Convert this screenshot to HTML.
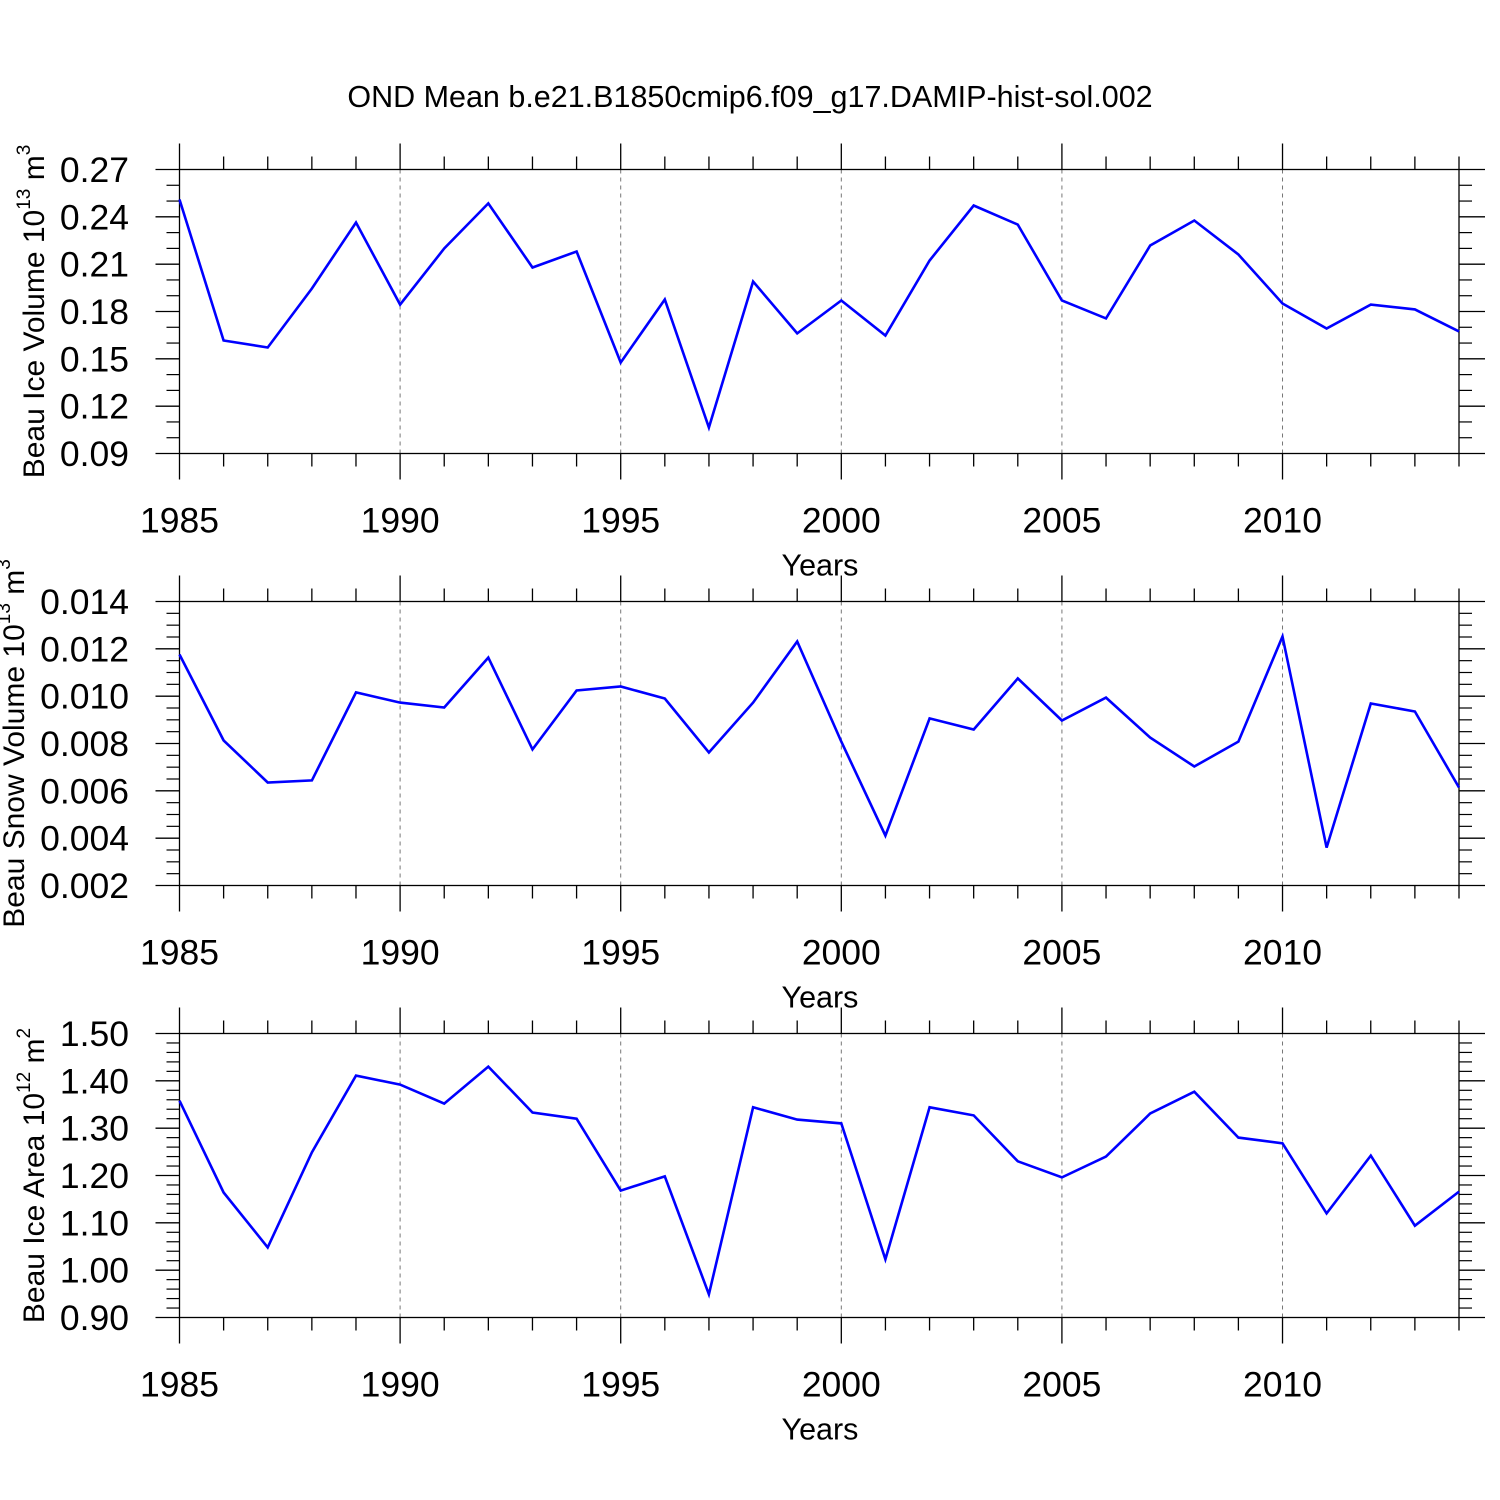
<!DOCTYPE html>
<html><head><meta charset="utf-8"><style>
html,body{margin:0;padding:0;background:#fff}
svg{display:block;font-family:"Liberation Sans",Arial,sans-serif}
</style></head><body>
<svg id="chart" width="1500" height="1500" viewBox="0 0 1500 1500" xmlns="http://www.w3.org/2000/svg">
<rect width="1500" height="1500" fill="#fff"/>
<text x="750" y="107" font-size="30.5" text-anchor="middle">OND Mean b.e21.B1850cmip6.f09_g17.DAMIP-hist-sol.002</text>
</svg>
<script>
const years = [1985,1986,1987,1988,1989,1990,1991,1992,1993,1994,1995,1996,1997,1998,1999,2000,2001,2002,2003,2004,2005,2006,2007,2008,2009,2010,2011,2012,2013,2014];
const iceVolume = [0.251,0.1616,0.1572,0.1946,0.2364,0.1844,0.2199,0.2485,0.2079,0.218,0.1477,0.1876,0.1065,0.199,0.1661,0.187,0.1648,0.2123,0.2472,0.2351,0.187,0.1756,0.2218,0.2377,0.2161,0.1851,0.1692,0.1844,0.1813,0.1674];
const snowVolume = [0.01176,0.00813,0.00635,0.00644,0.01016,0.00973,0.00952,0.01163,0.00775,0.01024,0.01041,0.0099,0.00762,0.00973,0.01231,0.00808,0.00411,0.00906,0.00859,0.01075,0.00897,0.00994,0.00825,0.00703,0.00808,0.01252,0.0036,0.00969,0.00935,0.00614];
const iceArea = [1.358,1.164,1.048,1.249,1.411,1.392,1.352,1.430,1.333,1.320,1.168,1.198,0.949,1.344,1.318,1.310,1.023,1.344,1.327,1.230,1.196,1.240,1.331,1.377,1.280,1.268,1.120,1.242,1.094,1.166];
const xTickYears = [1985,1990,1995,2000,2005,2010];
const iceVolTicks = [0.09,0.12,0.15,0.18,0.21,0.24,0.27];
const snowTicks = [0.002,0.004,0.006,0.008,0.010,0.012,0.014];
const areaTicks = [0.90,1.00,1.10,1.20,1.30,1.40,1.50];

const NS="http://www.w3.org/2000/svg";
const svg=document.getElementById('chart');
const L=179.5,R=1459,H=284;
function el(tag,attrs,parent){const e=document.createElementNS(NS,tag);for(const k in attrs)e.setAttribute(k,attrs[k]);(parent||svg).appendChild(e);return e;}

const panels=[
 {top:169.5,vals:iceVolume,ticks:iceVolTicks,dec:2,minor:3,tx:44,title:'Beau Ice Volume 10',sup:'13',unit:' m',usup:'3',name:'ice-volume'},
 {top:601.5,vals:snowVolume,ticks:snowTicks,dec:3,minor:4,tx:24,title:'Beau Snow Volume 10',sup:'13',unit:' m',usup:'3',name:'snow-volume'},
 {top:1033.5,vals:iceArea,ticks:areaTicks,dec:2,minor:5,tx:44,title:'Beau Ice Area 10',sup:'12',unit:' m',usup:'2',name:'ice-area'}
];
panels.forEach(p=>{
 const g=el('g',{});
 
 
 const B=p.top+H;
 const y0=p.ticks[0],y1=p.ticks[p.ticks.length-1];
 const x=v=>L+(v-years[0])/(years[years.length-1]-years[0])*(R-L);
 const y=v=>B-(v-y0)/(y1-y0)*H;
 xTickYears.forEach(yr=>{ if(yr!==years[0]){const gl=el('line',{x1:x(yr),x2:x(yr),y1:p.top,y2:B,stroke:'#777','stroke-width':1,'stroke-dasharray':'4,4'},g);
  
  }});
 years.forEach(yr=>{
  const maj=xTickYears.includes(yr), len=maj?26:13;
  el('line',{x1:x(yr),x2:x(yr),y1:p.top-len,y2:p.top,stroke:'#000','stroke-width':1.3},g);
  el('line',{x1:x(yr),x2:x(yr),y1:B,y2:B+len,stroke:'#000','stroke-width':1.3},g);
 });
 xTickYears.forEach(yr=>{
  const t=el('text',{x:x(yr),y:B+79,'font-size':35.5,'text-anchor':'middle'},g);
  
  
  t.textContent=yr;
 });
 const step=(p.ticks[1]-p.ticks[0])/p.minor;
 for(let i=0;i<p.ticks.length-1;i++){for(let j=1;j<p.minor;j++){const yy=y(p.ticks[i]+j*step);
  el('line',{x1:L-13,x2:L,y1:yy,y2:yy,stroke:'#000','stroke-width':1.2},g);
  el('line',{x1:R,x2:R+13,y1:yy,y2:yy,stroke:'#000','stroke-width':1.2},g);}}
 p.ticks.forEach(v=>{const yy=y(v);
  el('line',{x1:L-24,x2:L,y1:yy,y2:yy,stroke:'#000','stroke-width':1.3},g);
  el('line',{x1:R,x2:R+26,y1:yy,y2:yy,stroke:'#000','stroke-width':1.3},g);
  const t=el('text',{x:129,y:yy+12.5,'font-size':35.5,'text-anchor':'end'},g);
  
  
  t.textContent=v.toFixed(p.dec);
 });
 const fr=el('rect',{x:L,y:p.top,width:R-L,height:H,fill:'none',stroke:'#000','stroke-width':1.3},g);
 
 
 const pts=p.vals.map((v,i)=>x(years[i]).toFixed(1)+','+y(v).toFixed(1)).join(' ');
 const pl=el('polyline',{points:pts,fill:'none',stroke:'#0000ff','stroke-width':2.6,'stroke-linejoin':'miter'},g);
 
 
 const cy=p.top+H/2;
 const yt=el('text',{x:0,y:0,'font-size':30,'text-anchor':'middle',transform:`translate(${p.tx},${cy}) rotate(-90)`},g);
 
 
 yt.innerHTML=p.title+'<tspan dy="-14" font-size="19">'+p.sup+'</tspan><tspan dy="14">'+p.unit+'</tspan><tspan dy="-14" font-size="19">'+p.usup+'</tspan>';
 const xt=el('text',{x:820,y:B+122,'font-size':30.5,'text-anchor':'middle'},g);
 
 
 xt.textContent='Years';
});
</script>
</body></html>
